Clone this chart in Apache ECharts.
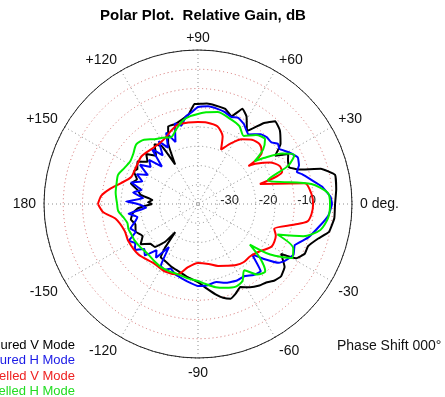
<!DOCTYPE html>
<html>
<head>
<meta charset="utf-8">
<script src="https://cdn.jsdelivr.net/npm/echarts@6/dist/echarts.min.js"></script>
<style>
html,body{margin:0;padding:0;background:#fff;}
#chart{width:445px;height:397px;}
</style>
</head>
<body>
<div id="chart"></div>
<script>
// ---- data (angles in degrees, gains in dB) ----
const seriesNames = ['Measured V Mode', 'Measured H Mode', 'Modelled V Mode', 'Modelled H Mode'];
const seriesColors = ['#000000', '#0000ff', '#ff0000', '#00ee00'];
const legendColors = ['#000000', '#1a1ae6', '#ee2222', '#22dd22'];

const measVAngles = [-180,-176,-172,-167,-162,-156,-150,-145,-140,-135,-131,-129,-127,-125,-120,-113,-106,-98,-90,-84,-79,-75,-71,-67,-63,-58,-53,-49,-45,-41,-36,-31,-29,-25,-21,-16,-12,-6,0,6,12,16,19,22,26,29,32,36,42,47,51,56,61,65,69,74,80,85,90,92,96,101,106,111,116,120,122,126,131,136,140,145,150,153,158,163,167,171,175,178,180];
const measVGain = [-23.1,-19.4,-17.9,-17.1,-17.9,-17.3,-18.4,-16.8,-18.9,-19.2,-22.0,-25.6,-20.7,-18.1,-17.9,-17.3,-16.8,-15.8,-14.7,-12.9,-11.1,-9.8,-9.0,-9.8,-10.8,-9.5,-8.5,-8.0,-6.9,-6.4,-7.2,-9.8,-5.9,-4.4,-4.4,-2.5,-0.2,0.6,0.6,1.1,1.4,-1.8,-7.5,-9.5,-9.0,-8.2,-11.4,-8.5,-6.4,-5.6,-8.0,-12.1,-9.0,-7.7,-10.6,-9.3,-9.0,-8.8,-9.0,-9.0,-11.6,-12.7,-13.4,-13.4,-17.3,-23.1,-17.3,-15.8,-18.4,-16.3,-17.9,-15.8,-16.8,-16.3,-17.9,-16.8,-18.9,-19.9,-23.1,-22.0,-23.1];

const measHAngles = [-180,-176,-172,-168,-164,-160,-156,-152,-148,-144,-140,-136,-132,-128,-124,-121,-117,-113,-108,-103,-98,-90,-84,-77,-70,-63,-57,-52,-47,-43,-40,-36,-33,-28,-23,-17,-10,-5,0,3,8,12,16,18,21,25,30,34,37,40,44,48,54,60,65,69,74,78,84,90,94,98,102,106,110,114,118,122,126,130,134,138,142,146,150,154,158,162,166,170,174,178,180];
const measHGain = [-19.4,-21.5,-16.8,-18.9,-17.9,-16.3,-17.3,-14.7,-15.8,-14.7,-16.8,-15.8,-18.9,-17.3,-21.5,-16.3,-15.8,-16.8,-15.8,-15.3,-14.7,-13.7,-13.7,-14.2,-13.2,-12.7,-12.7,-11.6,-11.1,-15.8,-12.9,-9.0,-8.0,-6.9,-7.7,-5.1,-2.8,-1.0,-0.2,-0.5,-2.5,-4.9,-6.9,-8.0,-6.9,-6.4,-8.0,-9.5,-9.0,-10.1,-10.1,-10.6,-12.7,-11.1,-10.3,-10.8,-10.1,-9.8,-9.5,-9.8,-11.1,-12.1,-14.2,-13.2,-17.9,-14.7,-18.4,-15.8,-19.4,-16.3,-21.5,-17.9,-19.4,-16.8,-19.9,-17.3,-19.4,-16.8,-19.9,-17.9,-20.7,-16.3,-19.4];

const modVAngles = [-180,-175,-170,-160,-152,-140,-126,-116,-106,-99,-90,-80,-72,-65,-58,-52,-45,-37,-30,-22,-18,-12,-9,-5,0,5,11,18,21,25,30,35,37,39,44,50,56,62,67,70,76,84,90,97,104,110,116,122,130,140,150,158,165,170,175,180];
const modVGain = [-9.0,-10.3,-13.2,-14.7,-14.5,-14.7,-15.8,-15.5,-16.0,-18.4,-19.7,-19.2,-18.1,-17.3,-16.3,-15.8,-15.8,-14.7,-12.9,-13.2,-14.2,-9.3,-6.2,-5.4,-5.1,-5.4,-6.7,-18.1,-11.6,-11.6,-13.4,-16.8,-18.6,-13.7,-12.7,-13.2,-14.7,-17.3,-19.7,-16.3,-14.2,-13.7,-13.7,-13.7,-13.7,-14.7,-15.8,-16.3,-16.3,-15.8,-16.3,-16.3,-14.2,-11.9,-9.8,-9.0];

const modHAngles = [-180,-175,-170,-165,-160,-155,-150,-143,-135,-127,-120,-113,-106,-98,-90,-85,-78,-72,-65,-60,-55,-50,-45,-41,-38,-35,-30,-25,-21,-17,-12,-6,0,5,10,19,23,27,31,35,37,40,44,50,56,62,69,78,85,90,95,100,106,112,118,124,130,136,142,148,154,160,166,172,180];
const modHGain = [-14.0,-14.2,-15.3,-16.0,-15.8,-16.0,-16.0,-16.3,-16.6,-16.3,-16.0,-16.0,-16.0,-15.5,-15.0,-14.2,-12.9,-12.1,-11.4,-11.9,-14.0,-11.1,-10.3,-13.7,-17.9,-12.1,-6.9,-7.7,-12.9,-6.4,-2.5,-1.0,-0.7,-1.2,-5.1,-15.8,-9.5,-6.9,-9.5,-14.2,-16.6,-12.9,-10.8,-11.6,-13.7,-12.1,-11.4,-10.6,-11.1,-11.6,-12.1,-12.9,-14.7,-16.3,-15.5,-14.7,-13.2,-12.7,-13.7,-14.2,-13.7,-12.9,-13.2,-13.4,-14.0];

const radiusTickLabels = [-30, -20, -10];
const angleTickValues = [0,30,60,90,120,150,180,210,240,270,300,330];
const angleTickLabels = ['0 deg.','+30','+60','+90','+120','+150','180','-150','-120','-90','-60','-30'];
const legendLabels = seriesNames;
const noteText = 'Phase Shift 000\u00b0';
const titleText = 'Polar Plot.  Relative Gain, dB';

// ---- build ----
function toData(angles, gains) {
  return angles.map((a, i) => [gains[i], a < 0 ? a + 360 : a]);
}
const allAngles = [measVAngles, measHAngles, modVAngles, modHAngles];
const allGains = [measVGain, measHGain, modVGain, modHGain];

const FONT = 'Liberation Sans, Arial, sans-serif';
const chart = echarts.init(document.getElementById('chart'), null, {renderer: 'canvas'});

const series = seriesNames.map((name, k) => ({
  name: name,
  type: 'line',
  coordinateSystem: 'polar',
  data: toData(allAngles[k], allGains[k]),
  showSymbol: false,
  symbol: 'none',
  smooth: k >= 2 ? 0.25 : 0.1,
  lineStyle: {color: seriesColors[k], width: 2},
  itemStyle: {color: seriesColors[k]},
  z: 3 + k
}));

const option = {
  animation: false,
  backgroundColor: '#ffffff',
  title: {
    text: titleText,
    left: 198,
    top: 3,
    textAlign: 'center',
    textStyle: {fontSize: 15, fontWeight: 'bold', color: '#000', fontFamily: FONT}
  },
  polar: {center: [198, 204], radius: 154},
  angleAxis: {
    type: 'value',
    min: 0,
    max: 360,
    interval: 30,
    startAngle: 0,
    clockwise: false,
    axisLine: {show: true, lineStyle: {color: '#222', width: 1}},
    axisTick: {show: false},
    axisLabel: {
      show: true,
      margin: 8,
      color: '#111',
      fontSize: 14,
      fontFamily: FONT,
      formatter: function (v) {
        const i = angleTickValues.indexOf(v);
        if (i < 0) return '';
        return (v > 0 && v < 180) ? '{up|' + angleTickLabels[i] + '}' : angleTickLabels[i];
      },
      rich: {
        up: {fontSize: 14, lineHeight: 8, color: '#111', fontFamily: FONT}
      }
    },
    splitLine: {show: true, lineStyle: {color: '#8c8c8c', width: 1, type: [1, 3]}}
  },
  radiusAxis: {
    type: 'value',
    min: -35,
    max: 5,
    interval: 5,
    axisLine: {show: false},
    axisTick: {show: false},
    axisLabel: {
      show: true,
      margin: -3,
      align: 'left',
      padding: [0, 0, 0, 3],
      color: '#222',
      fontSize: 13,
      fontFamily: FONT,
      formatter: function (v) {
        return radiusTickLabels.indexOf(v) >= 0 ? String(v) : '';
      }
    },
    splitLine: {
      show: true,
      lineStyle: {
        color: ['#8c8c8c', '#8c8c8c', '#8c8c8c', '#8c8c8c', '#8c8c8c', '#d46a6a', '#d46a6a', '#d46a6a', '#333333'],
        width: 1,
        type: [1, 3]
      }
    }
  },
  series: series,
  graphic: legendLabels.map((t, k) => ({
    type: 'text',
    x: 75,
    y: 345 + k * 15.5,
    style: {text: t, fill: legendColors[k], font: '13px ' + FONT, textAlign: 'right', textVerticalAlign: 'middle'}
  })).concat([{
    type: 'text',
    x: 337,
    y: 346,
    style: {text: noteText, fill: '#111', font: '14px ' + FONT, textAlign: 'left', textVerticalAlign: 'middle'}
  }])
};
chart.setOption(option);
</script>
</body>
</html>
